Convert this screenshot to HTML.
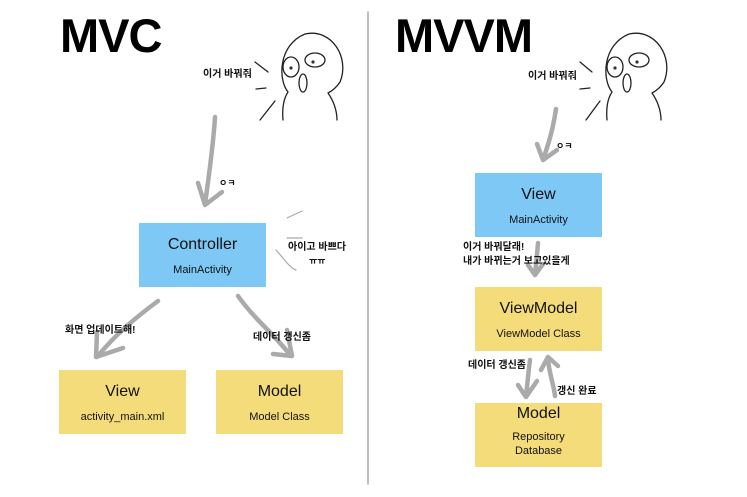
<!DOCTYPE html>
<html><head><meta charset="utf-8"><style>
body{margin:0;width:747px;height:497px;background:#fff;position:relative;overflow:hidden;font-family:"Liberation Sans","Noto Sans CJK KR",sans-serif}
.t{position:absolute;font-size:10px;font-weight:bold;color:#111;white-space:nowrap;line-height:14px}
.b{position:absolute;width:127px;height:64px;text-align:center;color:#111}
.b .h{font-size:16px;margin-top:13px;height:22px}
.b .s{font-size:11px;margin-top:5px;line-height:14px}
.blue{background:#7ec8f5}.yel{background:#f5dc7a}
.title{position:absolute;font-size:47px;font-weight:bold;letter-spacing:-1px;line-height:52px}
</style></head><body>
<svg width="747" height="497" style="position:absolute;left:0;top:0" fill="none" stroke-linecap="round" stroke-linejoin="round">
<line x1="368" y1="12" x2="368" y2="484" stroke="#aaa" stroke-width="1.5"/>
<g stroke="#222" stroke-width="1.3">
<path d="M283 120 C282 108 284 98 288 92 C278 80 278 45 305 34 C332 28 350 58 340 82 C336 88 332 91 328 93 C333 100 337 110 337 120"/>
<ellipse cx="291" cy="67" rx="8" ry="10"/><ellipse cx="315" cy="60" rx="10" ry="7"/>
<ellipse cx="303" cy="83" rx="4" ry="9"/>
<path d="M255 62 L268 72 M256 89 L266 88 M260 120 L275 101"/>
<path d="M607 120 C606 108 608 98 612 92 C602 80 602 45 629 34 C656 28 674 58 664 82 C660 88 656 91 652 93 C657 100 661 110 661 120"/>
<ellipse cx="615" cy="67" rx="8" ry="10"/><ellipse cx="639" cy="60" rx="10" ry="7"/>
<ellipse cx="627" cy="83" rx="4" ry="9"/>
<path d="M580 62 L592 72 M580 89 L590 88 M586 120 L600 101"/>
</g>
<g fill="#333" stroke="none"><circle cx="291" cy="68" r="1.6"/><circle cx="313" cy="62" r="1.6"/><circle cx="615" cy="68" r="1.6"/><circle cx="637" cy="62" r="1.6"/></g>
<g stroke="#aaa" stroke-width="1.2"><path d="M287 218 L302 211 M287 238 L302 238 M276 250 C285 260 290 268 296 270"/></g>
<g stroke="#aaa" stroke-width="4.5">
<path d="M215 117 C213 150 208 180 205 205 M198 183 L205 205 L222 192"/>
<path d="M158 301 C135 318 115 335 97 357 M97 332 L96 357 L123 348"/>
<path d="M238 296 C255 320 275 335 291 356 M287 330 L292 356 L273 354"/>
<path d="M556 109 C553 130 548 145 543 160 M537 144 L543 160 L557 150"/>
<path d="M538 243 C537 255 536 265 535 275 M528 265 L535 275 L543 264"/>
<path d="M530 360 C528 375 527 388 526 397 M518 385 L526 397 L537 381"/>
<path d="M555 396 C554 385 548 370 548 357 M541 370 L548 357 L558 366"/>
</g>
</svg>
<div class="title" style="left:60px;top:10px">MVC</div>
<div class="title" style="left:395px;top:10px">MVVM</div>
<div class="t" style="left:203px;top:68px">이거 바꿔줘</div>
<div class="t" style="left:219px;top:176px;font-size:9px">ㅇㅋ</div>
<div class="t" style="left:288px;top:241px">아이고 바쁘다</div>
<div class="t" style="left:309px;top:254px;font-size:9px">ㅠㅠ</div>
<div class="t" style="left:65px;top:324px">화면 업데이트해!</div>
<div class="t" style="left:253px;top:331px">데이터 갱신좀</div>
<div class="t" style="left:528px;top:70px">이거 바꿔줘</div>
<div class="t" style="left:556px;top:139px;font-size:9px">ㅇㅋ</div>
<div class="t" style="left:463px;top:241px">이거 바꿔달래!<br>내가 바뀌는거 보고있을게</div>
<div class="t" style="left:468px;top:359px">데이터 갱신좀</div>
<div class="t" style="left:557px;top:385px">갱신 완료</div>
<div class="b blue" style="left:139px;top:223px"><div class="h">Controller</div><div class="s">MainActivity</div></div>
<div class="b yel" style="left:59px;top:370px"><div class="h">View</div><div class="s">activity_main.xml</div></div>
<div class="b yel" style="left:216px;top:370px"><div class="h">Model</div><div class="s">Model Class</div></div>
<div class="b blue" style="left:475px;top:173px"><div class="h">View</div><div class="s">MainActivity</div></div>
<div class="b yel" style="left:475px;top:287px"><div class="h">ViewModel</div><div class="s">ViewModel Class</div></div>
<div class="b yel" style="left:475px;top:403px"><div class="h" style="margin-top:2px">Model</div><div class="s" style="margin-top:3px">Repository<br>Database</div></div>
</body></html>
